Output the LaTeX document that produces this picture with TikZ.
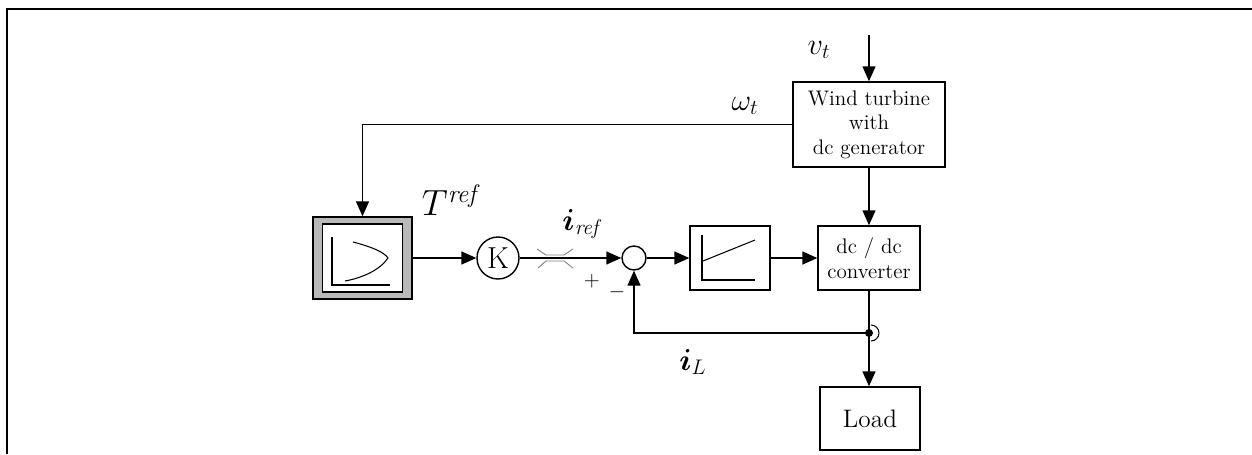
\documentclass[tikz,border=0pt]{standalone}
\usepackage{amsmath,amssymb,bm}
\usetikzlibrary{arrows,arrows.meta,calc,shapes,positioning}
\tikzset{sig/.style={-{Triangle[length=0.3cm,width=0.26cm]}},
  blk/.style={draw,rectangle,align=center,inner sep=1pt,font=\large}}

\begin{document}
\begin{tikzpicture}[x=0.02cm,y=-0.02cm,line width=0.8pt]
      \useasboundingbox (0,0) rectangle (1252,454);
      \draw[line width=1.5pt] (7,454) -- (7,9) -- (1252,9);
      \begin{scope}
        \node[blk,minimum width=3.04cm,minimum height=1.7cm] (WT) at (869,124.5) {Wind turbine\\with\\dc generator};
        \node[blk,minimum width=2.04cm,minimum height=1.28cm] (DC) at (869,258) {dc / dc\\converter};
        \node[blk,font=\Large,minimum width=2cm,minimum height=1.26cm] (Ld) at (870,418.5) {Load};
        \node[blk,minimum width=1.6cm,minimum height=1.28cm] (PI) at (730,258) {};
        \node[blk,fill=gray!55,minimum width=1.98cm,minimum height=1.64cm] (Tc) at (362.5,258) {};
        \node[blk,fill=white,minimum width=1.6cm,minimum height=1.36cm] (Tci) at (Tc) {};
        \node[draw,circle,minimum size=0.84cm,inner sep=0pt,font=\LARGE] (K) at (498,258) {K};
        \node[draw,circle,minimum size=0.48cm,inner sep=0pt] (Sum) at (634,258) {};
        \coordinate (vin) at (869,35);
        \coordinate (J) at (869,333);
      \end{scope}
      \begin{scope}[line width=0.6pt]
        \draw (332,237) -- (332,285) -- (390,285);
        \draw (353,242) .. controls (372,247) and (384,252) .. (388,258) .. controls (380,270) and (362,278) .. (345,281);
        \draw (702,235) -- (702,280) -- (755,280);
        \draw (703,261) -- (755,240);
        \draw[gray,line width=0.5pt] (537,249) -- (546,255) -- (564,255) -- (573,249);
        \draw[gray,line width=0.5pt] (538,268) -- (546,261) -- (564,261) -- (573,268);
      \end{scope}
      \path[sig] (vin) edge (WT.north);
      \path[sig] (WT.west) edge[to path={-| (\tikztotarget)}] (Tc.north);
      \path[sig] (Tc.east) edge (K.west);
      \path[sig] (K.east) edge (Sum.west);
      \path[sig] (Sum.east) edge (PI.west);
      \path[sig] (PI.east) edge (DC.west);
      \path[sig] (WT.south) edge (DC.north);
      \draw (DC.south) -- (J);
      \path[sig] (J) edge (J |- Ld.north);
      \path[sig] (J) edge[to path={-| (\tikztotarget)}] (Sum.south);
      \fill (J) circle (4);
      \draw[line width=0.6pt] ($(J)+(2,-8)$) arc[start angle=-90,end angle=90,radius=8];
      \draw (819,50) node[font=\LARGE] {$v_t$};
      \draw (745,106) node[font=\LARGE] {$\omega_t$};
      \draw (452,200) node[font=\huge] {$T^{\mathit{ref}}$};
      \draw (583,224) node[font=\LARGE] {$\bm{i}_{\mathit{ref}}$};
      \draw (592,281) node[font=\large] {$+$};
      \draw (617,292) node[font=\large] {$-$};
      \draw (693,362) node[font=\LARGE] {$\bm{i}_L$};
    \end{tikzpicture}
\end{document}
